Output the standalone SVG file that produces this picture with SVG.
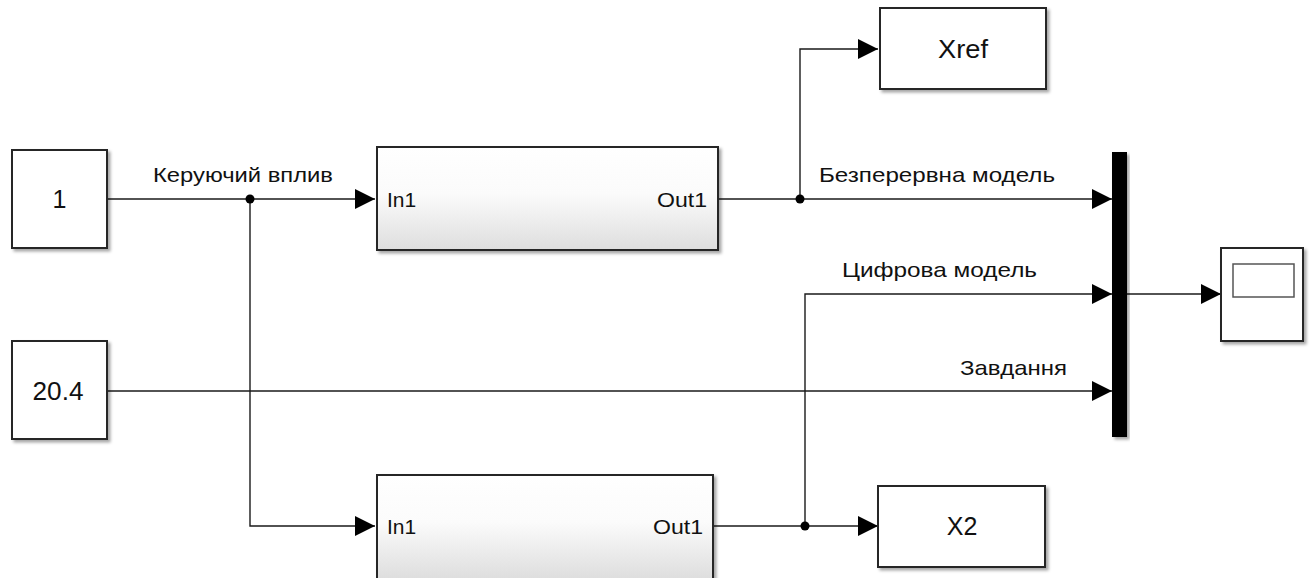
<svg xmlns="http://www.w3.org/2000/svg" width="1313" height="578" viewBox="0 0 1313 578">
<defs>
<linearGradient id="sub" x1="0" y1="0" x2="0" y2="1">
<stop offset="0" stop-color="#ffffff"/>
<stop offset="0.45" stop-color="#fbfbfb"/>
<stop offset="1" stop-color="#dedede"/>
</linearGradient>
<filter id="sh" x="-10%" y="-10%" width="125%" height="130%">
<feDropShadow dx="2.5" dy="2.5" stdDeviation="1.8" flood-color="#000" flood-opacity="0.35"/>
</filter>
<marker id="arr" markerWidth="20" markerHeight="20" refX="20" refY="10" orient="auto" markerUnits="userSpaceOnUse">
<path d="M0,0 L20,10 L0,20 Z" fill="#000"/>
</marker>
</defs>
<style>
.blk{fill:#fff;stroke:#262626;stroke-width:2;filter:url(#sh)}
.subs{fill:url(#sub);stroke:#262626;stroke-width:2;filter:url(#sh)}
.ln{fill:none;stroke:#1a1a1a;stroke-width:1.4}
.t{font-family:"Liberation Sans",Arial,sans-serif;fill:#111}
.lbl{font-size:21px}
.port{font-size:21px}
.big{font-size:25px}
</style>
<rect width="1313" height="578" fill="#fff"/>

<g id="connectors">
<path class="ln" d="M107,199 H375" marker-end="url(#arr)"/>
<path class="ln" d="M250,199 V526 H375" marker-end="url(#arr)"/>
<path class="ln" d="M718,199 H1112" marker-end="url(#arr)"/>
<path class="ln" d="M800,199 V49 H878" marker-end="url(#arr)"/>
<path class="ln" d="M713,526 H878" marker-end="url(#arr)"/>
<path class="ln" d="M805,526 V294 H1112" marker-end="url(#arr)"/>
<path class="ln" d="M107,391 H1112" marker-end="url(#arr)"/>
<path class="ln" d="M1127,294 H1221" marker-end="url(#arr)"/>
<circle cx="250" cy="199" r="4.5" fill="#000"/>
<circle cx="800" cy="199" r="4.5" fill="#000"/>
<circle cx="805" cy="526" r="4.5" fill="#000"/>
<text class="t lbl" x="153" y="182" textLength="180" lengthAdjust="spacingAndGlyphs">Керуючий вплив</text>
<text class="t lbl" x="819" y="182" textLength="236" lengthAdjust="spacingAndGlyphs">Безперервна модель</text>
<text class="t lbl" x="842" y="277" textLength="195" lengthAdjust="spacingAndGlyphs">Цифрова модель</text>
<text class="t lbl" x="960" y="375" textLength="107" lengthAdjust="spacingAndGlyphs">Завдання</text>
</g>

<g id="const1">
<rect class="blk" x="12" y="150" width="95" height="98"/>
<text class="t big" x="59.5" y="208" text-anchor="middle">1</text>
</g>

<g id="const204">
<rect class="blk" x="12" y="341" width="95" height="98"/>
<text class="t big" x="58" y="400" text-anchor="middle" textLength="51" lengthAdjust="spacingAndGlyphs">20.4</text>
</g>

<g id="subsystem1">
<rect class="subs" x="377" y="147" width="341" height="103"/>
<text class="t port" x="387" y="207">In1</text>
<text class="t port" x="707" y="207" text-anchor="end" textLength="50" lengthAdjust="spacingAndGlyphs">Out1</text>
</g>

<g id="subsystem2">
<rect class="subs" x="377" y="475" width="336" height="104"/>
<text class="t port" x="387" y="534">In1</text>
<text class="t port" x="703" y="534" text-anchor="end" textLength="50" lengthAdjust="spacingAndGlyphs">Out1</text>
</g>

<g id="xref">
<rect class="blk" x="880" y="8" width="166" height="81"/>
<text class="t big" x="963" y="58" text-anchor="middle" textLength="50" lengthAdjust="spacingAndGlyphs">Xref</text>
</g>

<g id="x2">
<rect class="blk" x="878" y="486" width="167" height="81"/>
<text class="t big" x="962" y="535" text-anchor="middle">X2</text>
</g>

<g id="mux">
<rect x="1112" y="152" width="15" height="285" fill="#000" filter="url(#sh)"/>
</g>

<g id="scope">
<rect class="blk" x="1221" y="248" width="82" height="93"/>
<rect x="1233" y="264" width="61" height="33" fill="#fff" stroke="#555" stroke-width="1.5"/>
</g>
</svg>
